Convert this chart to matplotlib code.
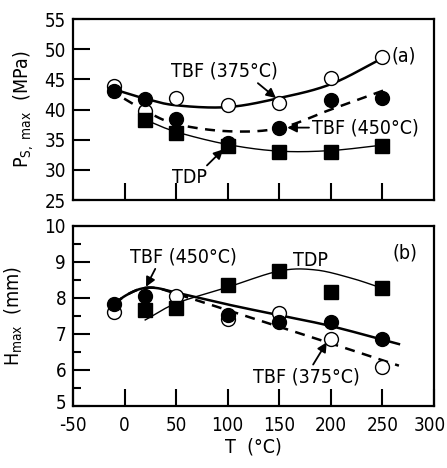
import numpy as np
import matplotlib
matplotlib.use("Agg")
import matplotlib.pyplot as plt
import matplotlib.transforms as mtransforms

plt.rcParams['font.family'] = ['DejaVu Sans']
plt.rcParams['font.stretch'] = 'condensed'
plt.rcParams['mathtext.default'] = 'regular'
plt.rcParams['axes.unicode_minus'] = False

# ---- data (a) ----
T_pts = [-10, 20, 50, 100, 150, 200, 250]
ps_tbf375 = [43.9, 39.7, 41.9, 40.7, 41.1, 45.3, 48.7]
ps_tbf450 = [43.0, 41.8, 38.5, 34.5, 37.0, 41.5, 41.9]
T_tdp = [20, 50, 100, 150, 200, 250]
ps_tdp = [38.3, 36.1, 34.0, 32.9, 33.0, 34.0]

# fitted curves (a)
fa375_x = [-15, 20, 50, 100, 150, 200, 250]
fa375_y = [43.6, 41.8, 40.7, 40.4, 41.9, 44.2, 48.5]
fa450_x = [-15, 20, 50, 100, 150, 200, 255]
fa450_y = [43.3, 39.8, 37.6, 36.4, 36.9, 40.0, 43.4]
fatdp_x = [20, 50, 100, 150, 200, 255]
fatdp_y = [38.3, 36.3, 34.2, 33.1, 33.2, 34.2]

# ---- data (b) ----
Tb_450 = [-10, 20, 100, 150, 200, 250]
h_tbf450 = [7.82, 8.05, 7.53, 7.32, 7.34, 6.87]
Tb_375 = [-10, 50, 100, 150, 200, 250]
h_tbf375 = [7.62, 8.06, 7.43, 7.57, 6.85, 6.09]
Tb_tdp = [20, 50, 100, 150, 200, 250]
h_tdp = [7.68, 7.73, 8.37, 8.76, 8.18, 8.27]

fb450_x = [-10, 0, 15, 30, 50, 100, 150, 200, 266]
fb450_y = [7.82, 8.05, 8.25, 8.28, 8.15, 7.82, 7.52, 7.22, 6.72]
fb375_x = [-10, 0, 15, 30, 50, 100, 150, 200, 266]
fb375_y = [7.82, 8.05, 8.25, 8.28, 8.12, 7.66, 7.20, 6.74, 6.12]
fbtdp_x = [20, 50, 100, 150, 185, 220, 250]
fbtdp_y = [7.39, 7.85, 8.30, 8.75, 8.78, 8.55, 8.27]

xticks = [-50, 0, 50, 100, 150, 200, 250, 300]


def smooth(xs, ys, n=30):
    P = np.column_stack([xs, ys]).astype(float)
    P = np.vstack([2 * P[0] - P[1], P, 2 * P[-1] - P[-2]])
    out = []
    for i in range(1, len(P) - 2):
        p0, p1, p2, p3 = P[i - 1], P[i], P[i + 1], P[i + 2]
        t = np.linspace(0, 1, n, endpoint=(i == len(P) - 3))[:, None]
        pt = 0.5 * ((2 * p1) + (-p0 + p2) * t + (2 * p0 - 5 * p1 + 4 * p2 - p3) * t ** 2
                    + (-p0 + 3 * p1 - 3 * p2 + p3) * t ** 3)
        out.append(pt)
    out = np.vstack(out)
    return out[:, 0], out[:, 1]


fig = plt.figure(figsize=(4.47, 4.68), dpi=100)
ax1 = fig.add_axes([0.1633, 0.5726, 0.8076, 0.3868])
ax2 = fig.add_axes([0.1633, 0.1325, 0.8076, 0.3846])

FS = 14
TFS = 13.5
ms = 10
open_kw = dict(marker='o', mfc='white', mec='black', mew=1.0, ms=ms, ls='none', zorder=5)
fill_kw = dict(marker='o', mfc='black', mec='black', ms=ms, ls='none', zorder=6)
sq_kw = dict(marker='s', mfc='black', mec='black', ms=ms, ls='none', zorder=7)
arrow = dict(arrowstyle='-|>', color='black', lw=1.3, mutation_scale=14, shrinkA=0, shrinkB=0)

# ---- panel (a) ----
x, y = smooth(fa375_x, fa375_y)
ax1.plot(x, y, color='black', lw=1.8, zorder=3)
x, y = smooth(fa450_x, fa450_y)
ax1.plot(x, y, color='black', lw=1.8, ls=(0, (4, 3)), zorder=3)
x, y = smooth(fatdp_x, fatdp_y)
ax1.plot(x, y, color='black', lw=1.0, zorder=3)
ax1.plot(T_pts, ps_tbf375, **open_kw)
ax1.plot(T_pts, ps_tbf450, **fill_kw)
ax1.plot(T_tdp, ps_tdp, **sq_kw)

ax1.set_xlim(-50, 300)
ax1.set_ylim(25, 55)
ax1.set_xticks([0, 50, 100, 150, 200, 250])
ax1.set_xticklabels([])
ax1.set_yticks([25, 30, 35, 40, 45, 50, 55])
ax1.set_ylabel(r'P$_{S,\ max}$  (MPa)', fontsize=FS, labelpad=6)

ax1.annotate('TBF (375°C)', xy=(146.8, 41.9), xytext=(97, 46.4), fontsize=FS,
             ha='center', va='center', arrowprops=dict(arrow, relpos=(0.78, 0.0)))
ax1.annotate('TBF (450°C)', xy=(157.7, 37.0), xytext=(181.5, 37.0), fontsize=FS,
             ha='left', va='center', arrowprops=dict(arrow, relpos=(0.0, 0.5)))
ax1.annotate('TDP', xy=(95.7, 33.4), xytext=(63.4, 28.7), fontsize=FS,
             ha='center', va='center', arrowprops=dict(arrow, relpos=(0.85, 0.9)))
ax1.text(271, 48.9, '(a)', fontsize=FS, ha='center', va='center')

# ---- panel (b) ----
x, y = smooth(fb450_x, fb450_y)
ax2.plot(x, y, color='black', lw=1.8, zorder=3)
x, y = smooth(fb375_x, fb375_y)
ax2.plot(x, y, color='black', lw=1.8, ls=(0, (4, 3)), zorder=3)
x, y = smooth(fbtdp_x, fbtdp_y)
ax2.plot(x, y, color='black', lw=1.0, zorder=3)
ax2.plot(Tb_375, h_tbf375, **open_kw)
ax2.plot(Tb_450, h_tbf450, **fill_kw)
ax2.plot(Tb_tdp, h_tdp, **sq_kw)

ax2.set_xlim(-50, 300)
ax2.set_ylim(5, 10)
ax2.set_xticks(xticks)
ax2.set_yticks([5, 6, 7, 8, 9, 10])
ax2.set_yticks([5.5, 6.5, 7.5, 8.5, 9.5], minor=True)
ax2.set_ylabel(r'H$_{max}$  (mm)', fontsize=FS, labelpad=14)
ax2.set_xlabel('T  (°C)', fontsize=FS, labelpad=2)

ax2.annotate('TBF (450°C)', xy=(20.8, 8.31), xytext=(57, 9.15), fontsize=FS,
             ha='center', va='center', arrowprops=dict(arrow, relpos=(0.25, 0.0)))
ax2.text(180, 9.03, 'TDP', fontsize=FS, ha='center', va='center')
ax2.text(272, 9.26, '(b)', fontsize=FS, ha='center', va='center')
ax2.annotate('TBF (375°C)', xy=(196, 6.77), xytext=(176, 5.81), fontsize=FS,
             ha='center', va='center', arrowprops=dict(arrow, relpos=(0.55, 1.0)))

for ax in (ax1, ax2):
    for s in ax.spines.values():
        s.set_linewidth(1.6)
    ax.tick_params(which='major', direction='in', length=12, width=1.5,
                   labelsize=TFS, top=False, right=False, pad=5)
    ax.tick_params(which='minor', direction='in', length=6, width=1.5,
                   top=False, right=False)
ax2.tick_params(axis='x', pad=7)

# hide end ticks at frame edges on x
for t in ax2.xaxis.get_major_ticks():
    if t.get_loc() in (-50, 300):
        t.tick1line.set_visible(False)

fig.canvas.draw()
lab300 = ax2.get_xticklabels()[-1]
lab300.set_transform(lab300.get_transform() +
                     mtransforms.ScaledTranslation(-4 / 100, 0, fig.dpi_scale_trans))
lab5 = ax2.get_yticklabels()[0]
lab5.set_transform(lab5.get_transform() +
                   mtransforms.ScaledTranslation(0, 4 / 100, fig.dpi_scale_trans))

fig.savefig('out.png', dpi=100)
